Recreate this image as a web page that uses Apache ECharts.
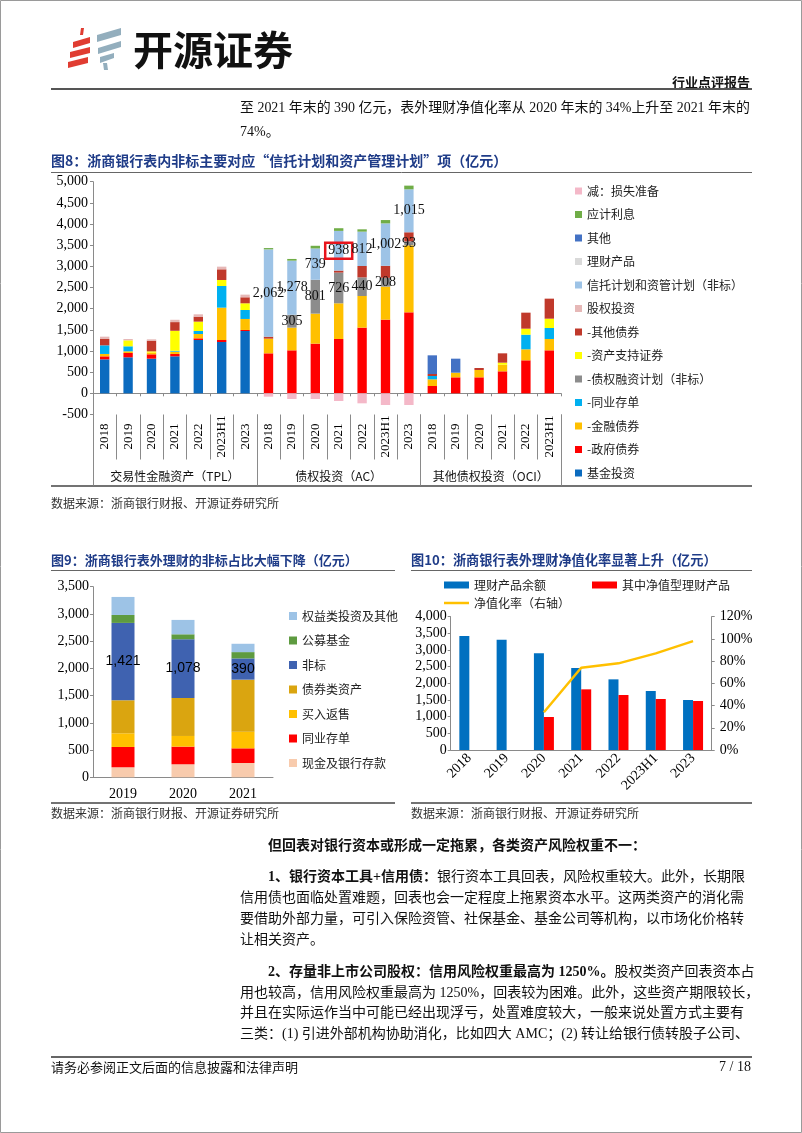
<!DOCTYPE html>
<html><head><meta charset="utf-8">
<script src="https://cdn.jsdelivr.net/npm/echarts@6.0.0/dist/echarts.min.js"></script>
<style>html,body{margin:0;padding:0;background:#fff}#c{width:802px;height:1133px}</style>
</head><body><div id="c"></div>
<script>
// ---------- Figure 8 data ----------
const years8 = ['2018','2019','2020','2021','2022','2023H1','2023','2018','2019','2020','2021','2022','2023H1','2023','2018','2019','2020','2021','2022','2023H1'];
const groupNames8 = ['交易性金融资产（TPL）','债权投资（AC）','其他债权投资（OCI）'];
const groupBounds8 = [0, 7, 14, 20];
const groupCenters8 = [3.5, 10.5, 17];
const fund8       = [803,851,819,874,1260,1213,1473, 0,0,0,0,0,0,0, 0,0,0,0,0,0];
const govBond8    = [71,102,103,56,40,47,24, 945,1016,1174,1284,1552,1741,1914, 173,378,378,520,780,1016];
const finBond8    = [56,40,40,55,102,764,260, 347,536,709,843,748,780,1583, 158,110,173,157,260,268];
const ncd8        = [204,118,0,20,71,512,212, 0,0,0,0,0,0,0, 79,0,0,0,346,260];
const debtPlan8   = [0,0,0,0,0,0,0, 0,305,801,726,440,208,93, 0,0,0,0,0,0];
const abs8        = [0,141,30,473,221,142,158, 0,0,0,0,0,0,0, 0,0,0,48,142,220];
const otherBond8  = [150,0,253,205,118,252,142, 47,0,0,47,268,284,215, 47,0,48,220,378,473];
const equity8     = [55,32,31,55,55,63,63, 0,0,0,0,0,0,0, 0,0,0,0,0,0];
const trust8      = [0,0,0,0,0,0,0, 2062,1278,739,938,812,1002,1015, 0,0,0,0,0,0];
const wmp8        = [0,0,0,0,0,0,0, 0,0,0,0,0,0,0, 0,0,0,0,0,0];
const other8      = [0,0,0,0,0,0,0, 0,0,0,0,0,0,0, 441,331,0,0,0,0];
const interest8   = [0,0,0,0,0,0,0, 31,40,63,63,55,79,87, 0,0,0,0,0,0];
const provision8  = [0,0,0,0,0,0,0, -79,-134,-134,-181,-236,-276,-276, 0,0,0,0,0,0];
const highlightIndex8 = 10;

// ---------- Figure 9 data ----------
const years9   = ['2019','2020','2021'];
const cash9    = [184,239,263];
const ncd9     = [373,324,269];
const repo9    = [251,196,306];
const bond9    = [606,698,955];
const nonstd9  = [1421,1078,390];
const fund9    = [146,91,116];
const equity9  = [331,264,153];

// ---------- Figure 10 data ----------
const years10     = ['2018','2019','2020','2021','2022','2023H1','2023'];
const balance10   = [3420,3310,2900,2460,2120,1770,1500];
const navProd10   = [null,null,990,1820,1650,1530,1470];
const navRatio10  = [null,null,0.34,0.74,0.78,0.87,0.98];

const CJK = "'Noto Sans CJK SC'";
const MIX = "'Liberation Serif','Noto Sans CJK SC'";
const AX = '#8a8a8a';
const fmt = v => Number(v).toLocaleString('en-US');

const chart = echarts.init(document.getElementById('c'), null, {renderer:'canvas', width:802, height:1133});

const s8defs = [
  ['基金投资', fund8, '#0B6BBF'],
  ['-政府债券', govBond8, '#FF0000'],
  ['-金融债券', finBond8, '#FFC000'],
  ['-同业存单', ncd8, '#00B0F0'],
  ['-债权融资计划（非标）', debtPlan8, '#8C8C8C', true],
  ['-资产支持证券', abs8, '#FFFF00'],
  ['-其他债券', otherBond8, '#C0392B'],
  ['股权投资', equity8, '#E6B8B7'],
  ['信托计划和资管计划（非标）', trust8, '#9DC3E6', true],
  ['理财产品', wmp8, '#D9D9D9'],
  ['其他', other8, '#4472C4'],
  ['应计利息', interest8, '#70AD47'],
  ['减：损失准备', provision8, '#F4B8C8']
];
const series8 = s8defs.map(([name, arr, color, lab]) => {
  let data = arr;
  if (name === '信托计划和资管计划（非标）') {
    data = arr.map((v, i) => i === highlightIndex8 ? {value: v, label: {borderColor:'#E8141B', borderWidth:2.5, padding:[2,3,0,3]}} : v);
  }
  return {
    name, type:'bar', stack:'c8', xAxisIndex:0, yAxisIndex:0, barWidth:'40%',
    itemStyle:{color}, data,
    label: lab ? {show:true, position:'inside', color:'#111', fontFamily:"'Liberation Serif'", fontSize:14,
      formatter: p => (p.value ? fmt(p.value) : '')} : {show:false}
  };
});

const s9defs = [
  ['现金及银行存款', cash9, '#F8CBAD'],
  ['同业存单', ncd9, '#FF0000'],
  ['买入返售', repo9, '#FFC000'],
  ['债券类资产', bond9, '#DAA510'],
  ['非标', nonstd9, '#3F62B0', true],
  ['公募基金', fund9, '#5E9B40'],
  ['权益类投资及其他', equity9, '#9DC3E6']
];
const series9 = s9defs.map(([name, arr, color, lab]) => ({
  name, type:'bar', stack:'c9', xAxisIndex:3, yAxisIndex:1, barWidth:23,
  itemStyle:{color}, data:arr,
  label: lab ? {show:true, position:'inside', color:'#000', fontFamily:"'Liberation Sans'", fontSize:14, formatter: p => fmt(p.value)} : {show:false}
}));

const series10 = [
  {name:'理财产品余额', type:'bar', xAxisIndex:4, yAxisIndex:2, barWidth:10, barGap:'0%', itemStyle:{color:'#0070C0'}, data:balance10},
  {name:'其中净值型理财产品', type:'bar', xAxisIndex:4, yAxisIndex:2, barWidth:10, barGap:'0%', itemStyle:{color:'#FF0000'}, data:navProd10},
  {name:'净值化率（右轴）', type:'line', xAxisIndex:4, yAxisIndex:3, symbol:'none', lineStyle:{color:'#FFC000', width:2.5}, itemStyle:{color:'#FFC000'}, data:navRatio10}
];

function txt(x, y, text, opt) {
  opt = opt || {};
  return {type:'text', x, y, silent:true, style:Object.assign({text, fill:'#111', fontSize:14, fontFamily:MIX, align:'left', verticalAlign:'middle'}, opt)};
}
function hline(x1, x2, y, w, c) {
  return {type:'line', silent:true, shape:{x1, y1:y, x2, y2:y}, style:{stroke:c || '#555', lineWidth:w || 1}};
}
function poly(pts, c) { return {type:'polygon', silent:true, shape:{points:pts}, style:{fill:c}}; }

const RED = '#E03C31', GB = '#93AEBD';
const boldRich = {b:{fontWeight:'bold', fontSize:14, fontFamily:MIX, fill:'#111'}};
const graphics = [
  {type:'rect', silent:true, shape:{x:0.5, y:0.5, width:801, height:1132}, style:{fill:'none', stroke:'#9a9a9a', lineWidth:1}},
  // logo
  poly([[80,35],[83,35],[84,28],[81,28]], RED),
  poly([[73,48],[90,43],[90,37],[73,42]], RED),
  poly([[70,58],[90,53],[90,47],[70,52]], RED),
  poly([[68,68],[88,63],[88,57],[68,62]], RED),
  poly([[97,42],[121,35],[121,28],[97,35]], GB),
  poly([[98,54],[121,47],[121,41],[98,48]], GB),
  poly([[100,63],[114,58],[114,53],[100,57]], GB),
  poly([[104,70],[108,70],[107,63],[103,63]], GB),
  txt(133, 50, '开源证券', {fontSize:40, fontWeight:'bold', fontFamily:CJK, fill:'#111'}),
  txt(750, 82, '行业点评报告', {fontSize:13, fontWeight:'bold', fontFamily:CJK, align:'right'}),
  hline(51, 752, 89, 2, '#555'),
  txt(240, 108, '至 2021 年末的 390 亿元，表外理财净值化率从 2020 年末的 34%上升至 2021 年末的', {fontSize:13.95}),
  txt(240, 132, '74%。', {fontSize:14}),
  // figure 8 frame
  txt(51, 161, '图8：浙商银行表内非标主要对应“信托计划和资产管理计划”项（亿元）', {fontSize:14, fontWeight:'bold', fill:'#1F3C88', fontFamily:CJK}),
  hline(51, 752, 172.5, 1, '#666'),
  hline(51, 752, 486, 1.5, '#444'),
  txt(51, 503, '数据来源：浙商银行财报、开源证券研究所', {fontSize:12, fontFamily:CJK, fill:'#333'}),
  // figure 9 / 10 frames
  txt(51, 560, '图9：浙商银行表外理财的非标占比大幅下降（亿元）', {fontSize:13, fontWeight:'bold', fill:'#1F3C88', fontFamily:CJK}),
  txt(411, 560, '图10：浙商银行表外理财净值化率显著上升（亿元）', {fontSize:13.2, fontWeight:'bold', fill:'#1F3C88', fontFamily:CJK}),
  hline(51, 395, 570.5, 1, '#666'),
  hline(411, 752, 570.5, 1, '#666'),
  hline(51, 395, 803, 1.5, '#444'),
  hline(411, 752, 803, 1.5, '#444'),
  txt(51, 813, '数据来源：浙商银行财报、开源证券研究所', {fontSize:12, fontFamily:CJK, fill:'#333'}),
  txt(411, 813, '数据来源：浙商银行财报、开源证券研究所', {fontSize:12, fontFamily:CJK, fill:'#333'}),
  // body text
  txt(268, 846, '{b|但回表对银行资本或形成一定拖累，各类资产风险权重不一：}', {rich:boldRich}),
  txt(268, 877, '{b|1、银行资本工具+信用债：}银行资本工具回表，风险权重较大。此外，长期限', {rich:boldRich}),
  txt(240, 898, '信用债也面临处置难题，回表也会一定程度上拖累资本水平。这两类资产的消化需'),
  txt(240, 919, '要借助外部力量，可引入保险资管、社保基金、基金公司等机构，以市场化价格转'),
  txt(240, 940, '让相关资产。'),
  txt(268, 972, '{b|2、存量非上市公司股权：信用风险权重最高为 1250%。}股权类资产回表资本占', {rich:boldRich}),
  txt(240, 993, '用也较高，信用风险权重最高为 1250%，回表较为困难。此外，这些资产期限较长，'),
  txt(240, 1013, '并且在实际运作当中可能已经出现浮亏，处置难度较大，一般来说处置方式主要有'),
  txt(240, 1034, '三类：(1) 引进外部机构协助消化，比如四大 AMC；(2) 转让给银行债转股子公司、'),
  hline(51, 752, 1057, 1.5, '#333'),
  txt(51, 1067, '请务必参阅正文后面的信息披露和法律声明', {fontSize:13, fontFamily:CJK}),
  txt(751, 1067, '7 / 18', {fontSize:14, fontFamily:"'Liberation Serif'", align:'right'})
];

const serifAx = {fontFamily:"'Liberation Serif'", fontSize:14, color:'#000'};

const option = {
  animation:false,
  backgroundColor:'#fff',
  grid:[
    {left:93, top:181.7, width:468, height:232.8},
    {left:93, top:586.7, width:180, height:190.6},
    {left:450.7, top:616.7, width:261, height:133.3}
  ],
  xAxis:[
    {type:'category', gridIndex:0, data:years8, position:'bottom',
      axisLine:{show:true, onZero:true, lineStyle:{color:AX}},
      axisTick:{show:true, interval:0, length:3, lineStyle:{color:AX}},
      axisLabel:{show:false}, splitLine:{show:false}},
    {type:'category', gridIndex:0, data:years8, position:'bottom',
      axisLine:{show:false, onZero:false},
      axisTick:{show:true, interval:0, length:45, lineStyle:{color:AX}},
      axisLabel:Object.assign({interval:0, rotate:90, align:'center', verticalAlign:'middle', margin:22}, serifAx, {fontSize:13}),
      splitLine:{show:false}},
    {type:'value', gridIndex:0, min:0, max:20, position:'bottom',
      axisLine:{show:false, onZero:false},
      axisTick:{show:true, customValues:groupBounds8, length:71, lineStyle:{color:AX}},
      axisLabel:{show:true, customValues:groupCenters8, margin:56, fontSize:12, fontFamily:CJK, color:'#111',
        formatter: v => groupNames8[groupCenters8.indexOf(v)] || ''},
      splitLine:{show:false}},
    {type:'category', gridIndex:1, data:years9,
      axisLine:{show:true, lineStyle:{color:AX}}, axisTick:{show:false},
      axisLabel:Object.assign({margin:10}, serifAx)},
    {type:'category', gridIndex:2, data:years10,
      axisLine:{show:true, lineStyle:{color:AX}}, axisTick:{show:false},
      axisLabel:Object.assign({interval:0, rotate:45, margin:6}, serifAx)}
  ],
  yAxis:[
    {type:'value', gridIndex:0, min:-500, max:5000, interval:500,
      axisLine:{show:true, onZero:false, lineStyle:{color:AX}},
      axisTick:{show:true, length:3, lineStyle:{color:AX}},
      axisLabel:Object.assign({margin:5, formatter: v => fmt(v)}, serifAx), splitLine:{show:false}},
    {type:'value', gridIndex:1, min:0, max:3500, interval:500,
      axisLine:{show:true, onZero:false, lineStyle:{color:AX}},
      axisTick:{show:true, length:3, lineStyle:{color:AX}},
      axisLabel:Object.assign({margin:4, formatter: v => fmt(v)}, serifAx), splitLine:{show:false}},
    {type:'value', gridIndex:2, min:0, max:4000, interval:500,
      axisLine:{show:true, onZero:false, lineStyle:{color:AX}},
      axisTick:{show:true, length:3, lineStyle:{color:AX}},
      axisLabel:Object.assign({margin:4, formatter: v => fmt(v)}, serifAx), splitLine:{show:false}},
    {type:'value', gridIndex:2, min:0, max:1.2, interval:0.2, position:'right',
      axisLine:{show:true, onZero:false, lineStyle:{color:AX}},
      axisTick:{show:true, length:3, lineStyle:{color:AX}},
      axisLabel:Object.assign({margin:8, formatter: v => Math.round(v*100) + '%'}, serifAx), splitLine:{show:false}}
  ],
  legend:[
    {orient:'vertical', left:570, top:180, itemWidth:7, itemHeight:7, itemGap:11.5, icon:'rect',
      textStyle:{fontSize:12, fontFamily:CJK, color:'#222'},
      data:s8defs.map(d => d[0]).reverse()},
    {orient:'vertical', left:284, top:605, itemWidth:8, itemHeight:8, itemGap:12.5, icon:'rect',
      textStyle:{fontSize:12, fontFamily:CJK, color:'#222'},
      data:s9defs.map(d => d[0]).reverse()},
    {left:439, top:574, itemWidth:25, itemHeight:7, icon:'rect', textStyle:{fontSize:12, fontFamily:CJK, color:'#222'}, data:['理财产品余额']},
    {left:587, top:574, itemWidth:25, itemHeight:7, icon:'rect', textStyle:{fontSize:12, fontFamily:CJK, color:'#222'}, data:['其中净值型理财产品']},
    {left:439, top:592, itemWidth:25, itemHeight:2.5, icon:'rect', textStyle:{fontSize:12, fontFamily:CJK, color:'#222'}, data:['净值化率（右轴）']}
  ],
  graphic:graphics,
  series:[].concat(series8, series9, series10)
};
chart.setOption(option);
</script>
</body></html>
